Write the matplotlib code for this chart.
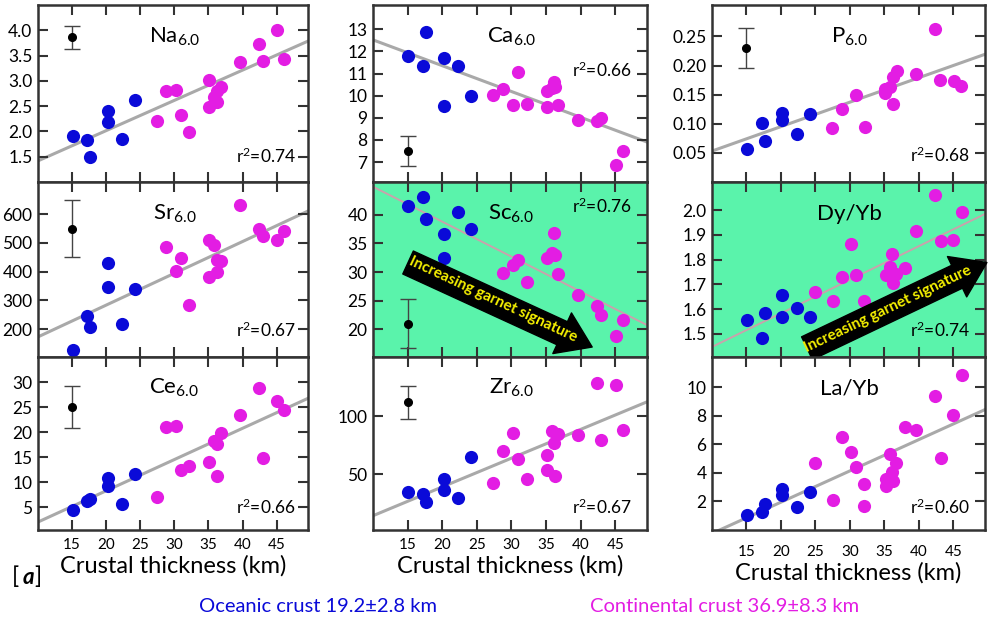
import numpy as np
import matplotlib
matplotlib.use("Agg")
import matplotlib.pyplot as plt

plt.rcParams['font.family'] = ['Lato', 'DejaVu Sans']
plt.rcParams['mathtext.default'] = 'regular'

OC_COLOR = '#0a0ad8'
CC_COLOR = '#e31de3'
GARNET_BG = '#5af3ab'
SPINE = '#333333'

# crustal thickness (km), oceanic samples (shared by every panel)
oc_x = [15.1, 17.2, 17.7, 20.2, 20.2, 22.3, 24.2]
# crustal thickness (km), continental samples for the element panels
cc_x = [27.4, 28.8, 30.3, 30.9, 32.2, 35.1, 35.1, 35.8, 36.2, 36.3, 36.8, 39.6, 42.4, 43.0, 45.1, 46.1]
# crustal thickness (km), continental samples for the REE ratio panels
cc_x_ree = [25.0, 27.5, 28.9, 30.1, 30.9, 32.1, 32.1, 35.2, 35.2, 35.8, 36.1, 36.2, 36.7, 38.0, 39.6, 42.4, 43.2, 45.0, 46.2]

na_oc = [1.91, 1.84, 1.49, 2.41, 2.19, 1.86, 2.62]
na_cc = [2.21, 2.79, 2.82, 2.33, 1.98, 3.02, 2.49, 2.69, 2.59, 2.79, 2.88, 3.37, 3.72, 3.40, 4.00, 3.43]
ca_oc = [11.78, 11.34, 12.86, 11.70, 9.52, 11.34, 9.97]
ca_cc = [10.02, 10.29, 9.56, 11.05, 9.64, 10.21, 9.49, 10.36, 10.62, 10.40, 9.58, 8.88, 8.85, 8.99, 6.85, 7.49]
p_oc = [0.056, 0.101, 0.071, 0.119, 0.107, 0.082, 0.117]
p_cc = [0.093, 0.125, np.nan, 0.149, 0.095, 0.160, 0.153, 0.164, 0.180, 0.134, 0.190, 0.186, 0.263, 0.176, 0.173, 0.165]
sr_oc = [127, 246, 208, 431, 345, 217, 341]
sr_cc = [np.nan, 486, 403, 446, 283, 510, 382, 492, 440, 399, 436, 631, 548, 523, 510, 541]
sc_oc = [41.6, 43.0, 39.3, 36.7, 32.4, 40.5, 37.5]
sc_cc = [np.nan, 29.9, 31.3, 32.1, 28.2, 32.5, np.nan, 33.3, 36.8, 32.9, 29.7, 26.0, 24.1, 22.6, 18.8, 21.6]
ce_oc = [4.45, 6.3, 6.6, 10.85, 9.3, 5.6, 11.7]
ce_cc = [7.0, 21.1, 21.3, 12.5, 13.3, 14.0, np.nan, 18.2, 17.7, 11.2, 19.8, 23.4, 28.9, 14.8, 26.2, 24.5]
zr_oc = [34.8, 33.3, 26.1, 45.7, 36.2, 29.9, 64.9]
zr_cc = [42.8, 69.8, 85.9, 62.9, 46.3, 67.0, 54.0, 87.4, 77.3, 48.6, 84.5, 83.6, 128.7, 79.3, 126.7, 88.5]
dy_oc = [1.556, 1.485, 1.583, 1.656, 1.570, 1.606, 1.570]
dy_cc = [1.671, 1.633, 1.731, 1.862, 1.738, 1.633, np.nan, 1.738, np.nan, 1.769, 1.825, 1.704, 1.742,
         1.765, 1.917, 2.060, 1.876, 1.879, 1.993]
la_oc = [1.03, 1.26, 1.84, 2.84, 2.46, 1.61, 2.65]
la_cc = [4.69, 2.12, 6.48, 5.43, 4.39, 3.23, 1.65, 3.11, 3.58, 5.32, 4.04, 3.46, 4.67, 7.17, 6.99, 9.37,
         5.04, 8.03, 10.81]

# regression lines (slope, intercept) and r^2
na_fit, na_r2 = (0.0598, 0.82), 0.74
ca_fit, ca_r2 = (-0.1166, 13.69), 0.66
p_fit, p_r2 = (0.004197, 0.0112), 0.68
sr_fit, sr_r2 = (11.06, 62.4), 0.67
sc_fit, sc_r2 = (-0.609, 50.97), 0.76
dy_fit, dy_r2 = (0.013564, 1.3122), 0.74
ce_fit, ce_r2 = (0.623, -4.14), 0.66
zr_fit, zr_r2 = (2.477, -10.47), 0.67
la_fit, la_r2 = (0.2188, -2.43), 0.60

# typical uncertainty (value, +/-) drawn at 15 km
na_err = (3.86, 0.23)
ca_err = (7.5, 0.69)
p_err = (0.23, 0.034)
sr_err = (550, 100)
sc_err = (21.0, 4.3)
ce_err = (25.0, 4.2)
zr_err = (112, 14)

xticks = [15, 20, 25, 30, 35, 40, 45]
XLIM = (10, 49.6)

fig = plt.figure(figsize=(9.91, 6.22), dpi=100)

col_x = [(38, 270), (373, 274), (712, 273)]
row_y = [(5, 182), (182, 357), (357, 530)]


def make_ax(row, col):
    x0, w = col_x[col]
    top, bot = row_y[row]
    return fig.add_axes([x0 / 991, (622 - bot) / 622, w / 991, (bot - top) / 622])


def draw_panel(ax, label, oc_y, xs, cc_y, fit, r2, r2_pos, ylim, yticks, yfmt,
               err=None, garnet=False, bottom=False):
    if garnet:
        ax.set_facecolor(GARNET_BG)
    xx = np.array(XLIM)
    if garnet:
        ax.plot(xx, fit[0] * xx + fit[1], color='#c9a2ac', lw=1.4, zorder=1)
    else:
        ax.plot(xx, fit[0] * xx + fit[1], color='#a9a9a9', lw=2.2, zorder=1)
    ax.scatter(oc_x, oc_y, s=90, color=OC_COLOR, linewidths=0, zorder=3)
    ax.scatter(xs, cc_y, s=90, color=CC_COLOR, linewidths=0, zorder=3)
    if err is not None:
        ax.errorbar([15], [err[0]], yerr=[err[1]], fmt='o', color='black', ms=5.5,
                    ecolor='#444444', elinewidth=1.0, capsize=6, capthick=1.0, zorder=4)
    ax.set_xlim(*XLIM)
    ax.set_ylim(*ylim)
    ax.set_xticks(xticks)
    ax.set_yticks(yticks)
    ax.set_yticklabels([yfmt.format(v) for v in yticks])
    ax.tick_params(direction='in', top=True, right=True, length=7, width=1.5,
                   color=SPINE, labelsize=12.5, labelbottom=bottom, pad=4)
    ax.tick_params(axis='x', labelsize=11, pad=6)
    for s in ax.spines.values():
        s.set_color(SPINE)
        s.set_linewidth(1.8)
    ax.text(0.505, 0.82, label, transform=ax.transAxes, ha='center', va='center', fontsize=16)
    ax.text(r2_pos[0], r2_pos[1], '$r^2$=%.2f' % r2, transform=ax.transAxes,
            ha='right', va='center', fontsize=12.5)
    if bottom:
        ax.set_xlabel('Crustal thickness (km)', fontsize=17, labelpad=2)


def garnet_arrow(ax, tail, tip, text_xy, angle):
    ax.annotate('', xy=tip, xytext=tail, xycoords='axes fraction', textcoords='axes fraction',
                annotation_clip=False,
                arrowprops=dict(arrowstyle='simple,head_width=2.3,head_length=1.7,tail_width=1.3',
                                mutation_scale=14, color='black', shrinkA=0, shrinkB=0))
    ax.text(text_xy[0], text_xy[1], 'Increasing garnet signature', transform=ax.transAxes,
            rotation=angle, rotation_mode='anchor', ha='center', va='center',
            color='#f5f000', fontsize=11, fontweight='bold', zorder=6)


ax = make_ax(0, 0)
draw_panel(ax, 'Na$_{6.0}$', na_oc, cc_x, na_cc, na_fit, na_r2, (0.955, 0.145),
           (1.0, 4.5), [1.5, 2.0, 2.5, 3.0, 3.5, 4.0], '{:.1f}', err=na_err)

ax = make_ax(0, 1)
draw_panel(ax, 'Ca$_{6.0}$', ca_oc, cc_x, ca_cc, ca_fit, ca_r2, (0.945, 0.63),
           (6.1, 14.1), [7, 8, 9, 10, 11, 12, 13], '{:.0f}', err=ca_err)

ax = make_ax(0, 2)
draw_panel(ax, 'P$_{6.0}$', p_oc, cc_x, p_cc, p_fit, p_r2, (0.945, 0.15),
           (0.0, 0.304), [0.05, 0.10, 0.15, 0.20, 0.25], '{:.2f}', err=p_err)

ax = make_ax(1, 0)
draw_panel(ax, 'Sr$_{6.0}$', sr_oc, cc_x, sr_cc, sr_fit, sr_r2, (0.955, 0.155),
           (103, 712), [200, 300, 400, 500, 600], '{:.0f}', err=sr_err)

ax = make_ax(1, 1)
draw_panel(ax, 'Sc$_{6.0}$', sc_oc, cc_x, sc_cc, sc_fit, sc_r2, (0.945, 0.86),
           (15.2, 45.7), [20, 25, 30, 35, 40], '{:.0f}', err=sc_err, garnet=True)
garnet_arrow(ax, (0.128, 0.54), (0.80, 0.057), (0.44, 0.33), -25)

ax = make_ax(1, 2)
draw_panel(ax, 'Dy/Yb', dy_oc, cc_x_ree, dy_cc, dy_fit, dy_r2, (0.945, 0.15),
           (1.407, 2.114), [1.5, 1.6, 1.7, 1.8, 1.9, 2.0], '{:.1f}', garnet=True)
garnet_arrow(ax, (0.348, 0.05), (1.007, 0.54), (0.645, 0.275), 25.5)

ax = make_ax(2, 0)
draw_panel(ax, 'Ce$_{6.0}$', ce_oc, cc_x, ce_cc, ce_fit, ce_r2, (0.955, 0.13),
           (0.5, 35), [5, 10, 15, 20, 25, 30], '{:.0f}', err=ce_err, bottom=True)

ax = make_ax(2, 1)
draw_panel(ax, 'Zr$_{6.0}$', zr_oc, cc_x, zr_cc, zr_fit, zr_r2, (0.945, 0.13),
           (2, 151), [50, 100], '{:.0f}', err=zr_err, bottom=True)

ax = make_ax(2, 2)
draw_panel(ax, 'La/Yb', la_oc, cc_x_ree, la_cc, la_fit, la_r2, (0.945, 0.13),
           (0.0, 12.1), [2, 4, 6, 8, 10], '{:.0f}', bottom=True)
ax.tick_params(axis='x', pad=11)

# panel tag and crust legend
fig.text(0.012, 0.072, '[', fontsize=17, va='center')
fig.text(0.023, 0.072, 'a', fontsize=16, fontweight='bold', style='italic', va='center')
fig.text(0.035, 0.072, ']', fontsize=17, va='center')
fig.text(0.321, 0.025, 'Oceanic crust 19.2\u00b12.8 km', color=OC_COLOR, fontsize=14.5,
         ha='center', va='center')
fig.text(0.731, 0.025, 'Continental crust 36.9\u00b18.3 km', color=CC_COLOR, fontsize=14.5,
         ha='center', va='center')

fig.savefig('out.png', dpi=100)
